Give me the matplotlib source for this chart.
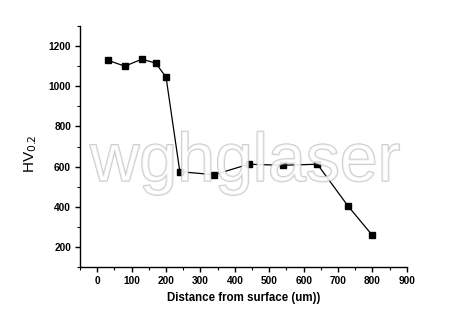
import matplotlib
matplotlib.use("Agg")
import matplotlib.pyplot as plt
from matplotlib.ticker import MultipleLocator
import matplotlib.patheffects as pe

# hardness profile
distance = [30, 80, 130, 170, 200, 240, 340, 440, 540, 640, 730, 800]
hardness = [1130, 1100, 1135, 1115, 1045, 575, 560, 612, 607, 612, 402, 258]

plt.rcParams['font.family'] = ['Liberation Sans', 'DejaVu Sans']

fig = plt.figure(figsize=(4.5, 3.29), dpi=100)
ax = fig.add_axes([0.178, 0.188, 0.726, 0.733])

ax.plot(distance, hardness, 'k-', linewidth=0.9, marker='s', markersize=3.8,
        markerfacecolor='black', markeredgecolor='black')

ax.set_xlim(-50, 900)
ax.set_ylim(100, 1300)
ax.xaxis.set_major_locator(MultipleLocator(100))
ax.xaxis.set_minor_locator(MultipleLocator(50))
ax.yaxis.set_major_locator(MultipleLocator(200))
ax.yaxis.set_minor_locator(MultipleLocator(100))

for side in ['top', 'right']:
    ax.spines[side].set_visible(False)
for side in ['left', 'bottom']:
    ax.spines[side].set_linewidth(1.0)

ax.tick_params(which='major', direction='out', length=3.5, width=1.0, labelsize=7.3, pad=3)
ax.tick_params(which='minor', direction='out', length=2, width=0.8)
for lbl in ax.get_xticklabels() + ax.get_yticklabels():
    lbl.set_fontweight('bold')

ax.set_xlabel("Distance from surface (um))", fontsize=8.3, fontweight='bold', labelpad=4)
ax.set_ylabel("HV$_{0.2}$", fontsize=11)
ax.yaxis.set_label_coords(-0.125, 0.47)

# watermark
fig.text(0.545, 0.505, "wghglaser", fontsize=49, color='white', alpha=0.65,
         ha='center', va='center',
         path_effects=[pe.Stroke(linewidth=1.3, foreground='#b0b0b0'), pe.Normal()])

fig.savefig("out.png", dpi=100)
